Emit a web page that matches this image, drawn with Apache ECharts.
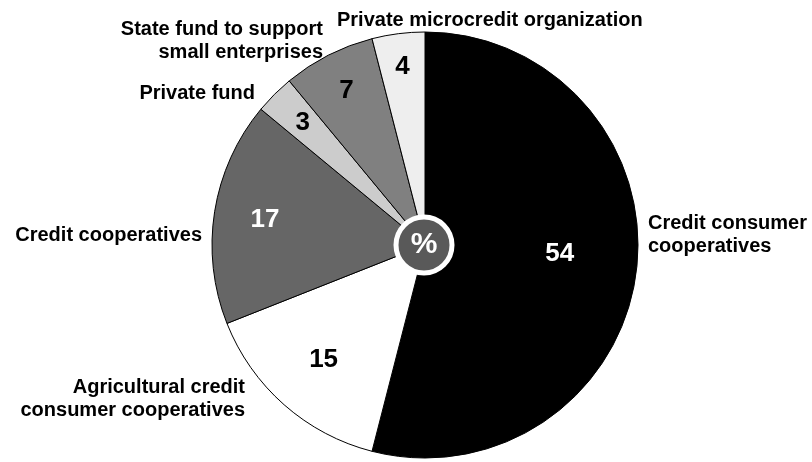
<!DOCTYPE html>
<html>
<head>
<meta charset="utf-8">
<script src="https://cdn.jsdelivr.net/npm/echarts@6/dist/echarts.min.js"></script>
<style>
  html, body { margin: 0; padding: 0; background: #ffffff; }
  #chart { width: 812px; height: 462px; }
</style>
</head>
<body>
<div id="chart"></div>
<script>
// Shares of organisations, in percent, clockwise from 12 o'clock
const categories = [
  'Credit consumer cooperatives',
  'Agricultural credit consumer cooperatives',
  'Credit cooperatives',
  'Private fund',
  'State fund to support small enterprises',
  'Private microcredit organization'
];
const nameLabels = [
  'Credit consumer\ncooperatives',
  'Agricultural credit\nconsumer cooperatives',
  'Credit cooperatives',
  'Private fund',
  'State fund to support\nsmall enterprises',
  'Private microcredit organization'
];
const shares = [54, 15, 17, 3, 7, 4];
const unitLabel = '%';

// Styling
const sliceColors = ['#000000', '#ffffff', '#666666', '#cccccc', '#808080', '#eeeeee'];
const valueColors = ['#ffffff', '#000000', '#ffffff', '#000000', '#000000', '#000000'];
const FONT = '"Liberation Sans", Arial, Helvetica, sans-serif';

// Geometry of the pie
const CX = 425, CY = 245, R = 213;

// Where the category names sit around the pie
const nameAnchors = [
  { x: 648, y: 235, align: 'left' },
  { x: 245, y: 399, align: 'right' },
  { x: 202, y: 235, align: 'right' },
  { x: 255, y: 93, align: 'right' },
  { x: 323, y: 41, align: 'right' },
  { x: 337, y: 20, align: 'left' }
];
// Distance of each value label from the centre, as a share of the radius
const valueRadius = [0.62, 0.70, 0.74, 0.79, 0.79, 0.82];
const valueNudge = [[0, -8], [0, 0], [0, 0], [0, 0], [0, 0], [0, 0]];

const chart = echarts.init(document.getElementById('chart'), null, { renderer: 'canvas' });

const sliceData = categories.map((name, i) => ({
  name: name,
  value: shares[i],
  itemStyle: { color: sliceColors[i] }
}));

const valueData = categories.map((name, i) => ({
  name: name,
  value: shares[i],
  label: { color: valueColors[i] }
}));

chart.setOption({
  backgroundColor: '#ffffff',
  animation: false,
  series: [
    {
      // slices with category names outside
      type: 'pie',
      center: [CX, CY],
      radius: [0, R],
      startAngle: 90,
      clockwise: true,
      silent: true,
      avoidLabelOverlap: false,
      emphasis: { disabled: true },
      itemStyle: { borderColor: '#000000', borderWidth: 1 },
      label: {
        show: true,
        position: 'outside',
        formatter: p => nameLabels[p.dataIndex],
        color: '#000000',
        fontFamily: FONT,
        fontWeight: 'bold',
        fontSize: 20,
        lineHeight: 22.5
      },
      labelLine: { show: false },
      labelLayout: p => {
        const a = nameAnchors[p.dataIndex];
        return { x: a.x, y: a.y, align: a.align, verticalAlign: 'middle' };
      },
      data: sliceData
    },
    {
      // percentage badge in the middle
      type: 'pie',
      center: [CX - 1, CY],
      radius: [0, 28],
      silent: true,
      emphasis: { disabled: true },
      itemStyle: { color: '#595959', borderColor: '#ffffff', borderWidth: 5 },
      label: {
        show: true,
        position: 'center',
        formatter: unitLabel,
        color: '#ffffff',
        fontFamily: FONT,
        fontWeight: 'bold',
        fontSize: 30
      },
      labelLine: { show: false },
      data: [{ name: unitLabel, value: 1 }]
    },
    {
      // value labels inside the slices
      type: 'pie',
      center: [CX, CY],
      radius: [0, R],
      startAngle: 90,
      clockwise: true,
      silent: true,
      avoidLabelOverlap: false,
      emphasis: { disabled: true },
      itemStyle: { color: 'rgba(0,0,0,0)', borderWidth: 0 },
      label: {
        show: true,
        position: 'inside',
        formatter: '{c}',
        fontFamily: FONT,
        fontWeight: 'bold',
        fontSize: 26
      },
      labelLine: { show: false },
      labelLayout: p => {
        const r = p.labelRect;
        const lx = r.x + r.width / 2;
        const ly = r.y + r.height / 2;
        const k = valueRadius[p.dataIndex] / 0.5;
        const n = valueNudge[p.dataIndex];
        return {
          x: CX + (lx - CX) * k + n[0],
          y: CY + (ly - CY) * k + n[1],
          align: 'center',
          verticalAlign: 'middle'
        };
      },
      data: valueData
    }
  ]
});
</script>
</body>
</html>
